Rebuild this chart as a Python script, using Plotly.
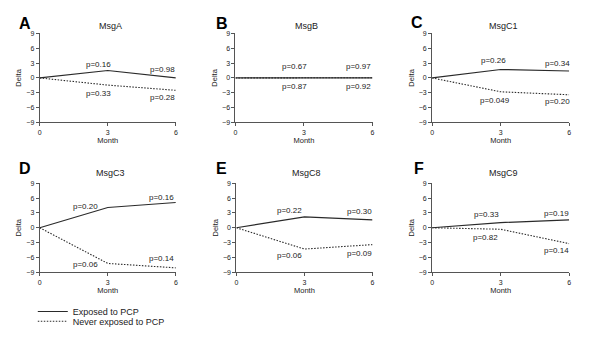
import plotly.graph_objects as go

months = [0, 3, 6]
panels = ["MsgA", "MsgB", "MsgC1", "MsgC3", "MsgC8", "MsgC9"]
letters = ["A", "B", "C", "D", "E", "F"]

exposed = [
    [0, 1.5, 0.0],
    [0, -0.05, 0.0],
    [0, 1.7, 1.4],
    [0, 4.1, 5.1],
    [0, 2.2, 1.6],
    [0, 1.05, 1.6],
]
never = [
    [0, -1.45, -2.5],
    [0, 0.0, 0.05],
    [0, -2.8, -3.4],
    [0, -7.2, -8.1],
    [0, -4.3, -3.4],
    [0, -0.3, -3.2],
]
p_exposed = [
    ["p=0.16", "p=0.98"],
    ["p=0.67", "p=0.97"],
    ["p=0.26", "p=0.34"],
    ["p=0.20", "p=0.16"],
    ["p=0.22", "p=0.30"],
    ["p=0.33", "p=0.19"],
]
p_never = [
    ["p=0.33", "p=0.28"],
    ["p=0.87", "p=0.92"],
    ["p=0.049", "p=0.20"],
    ["p=0.06", "p=0.14"],
    ["p=0.06", "p=0.09"],
    ["p=0.82", "p=0.14"],
]
# label anchor positions (data coords, centers) for the p-value text
lab_exp_pos = [
    [(2.61, 2.8), (5.43, 1.64)],
    [(2.57, 2.37), (5.39, 2.37)],
    [(2.67, 3.56), (5.48, 3.0)],
    [(2.02, 4.27), (5.36, 6.2)],
    [(2.33, 3.4), (5.41, 3.3)],
    [(2.37, 2.6), (5.43, 2.95)],
]
lab_nev_pos = [
    [(2.61, -3.1), (5.43, -3.95)],
    [(2.57, -1.78), (5.39, -1.78)],
    [(2.77, -4.5), (5.47, -4.7)],
    [(2.02, -7.4), (5.36, -6.25)],
    [(2.36, -5.5), (5.41, -5.1)],
    [(2.35, -1.97), (5.43, -4.6)],
]
yticks = [-9, -6, -3, 0, 3, 6, 9]
xticks = [0, 3, 6]

W, H = 600, 338
xdom_px = [(38, 175), (235, 373), (433, 571), (38, 175), (236, 373), (433, 571)]
ydom_px = [(30, 121), (30, 121), (30, 121), (183, 274), (183, 274), (183, 274)]
letter_px = [(23, 19.5), (221, 19.5), (418, 19), (23, 168), (221, 168), (420, 168)]
title_py = [22.7, 22.7, 22.7, 173, 173, 173]

FONT = "Liberation Sans, Arial, sans-serif"
LINE_C = "#2a2a2a"
AX_C = "#555555"
TXT_C = "#222222"

fig = go.Figure()
annotations = []
for i in range(6):
    sfx = "" if i == 0 else str(i + 1)
    xa, ya = "x" + sfx, "y" + sfx
    fig.add_trace(go.Scatter(
        x=months, y=exposed[i], mode="lines", xaxis=xa, yaxis=ya,
        line=dict(color=LINE_C, width=1.2, dash="solid"),
        name="Exposed to PCP", showlegend=(i == 0), legend="legend"))
    fig.add_trace(go.Scatter(
        x=months, y=never[i], mode="lines", xaxis=xa, yaxis=ya,
        line=dict(color=LINE_C, width=1.1, dash="1.5px,1.5px"),
        name="Never exposed to PCP", showlegend=(i == 0), legend="legend2"))
    x0, x1 = xdom_px[i]
    yt, yb = ydom_px[i]
    axis_common = dict(showgrid=False, zeroline=False, showline=True,
                       linecolor=AX_C, linewidth=1, ticks="outside",
                       ticklen=3, tickwidth=1, tickcolor=AX_C,
                       tickfont=dict(size=7, color=TXT_C, family=FONT))
    fig.update_layout({
        "xaxis" + sfx: dict(domain=[x0 / W, x1 / W], anchor=ya, range=[0, 6],
                            tickvals=xticks,
                            title=dict(text="Month", standoff=0,
                                       font=dict(size=7.5, color=TXT_C, family=FONT)),
                            **axis_common),
        "yaxis" + sfx: dict(domain=[1 - yb / H, 1 - yt / H], anchor=xa,
                            range=[-9, 9], tickvals=yticks,
                            title=dict(text="Delta", standoff=3,
                                       font=dict(size=7.5, color=TXT_C, family=FONT)),
                            **axis_common),
    })
    annotations.append(dict(text="<b>" + letters[i] + "</b>",
                            x=letter_px[i][0] / W, y=1 - letter_px[i][1] / H,
                            xref="paper", yref="paper", showarrow=False,
                            font=dict(size=16, family=FONT, color="#000"),
                            xanchor="center", yanchor="middle"))
    annotations.append(dict(text=panels[i], x=(x0 + x1) / 2 / W + 0.004, y=1 - title_py[i] / H,
                            xref="paper", yref="paper", showarrow=False,
                            font=dict(size=9, family=FONT, color=TXT_C),
                            xanchor="center", yanchor="middle"))
    for k in range(2):
        for txt, pos in ((p_exposed[i][k], lab_exp_pos[i][k]), (p_never[i][k], lab_nev_pos[i][k])):
            annotations.append(dict(text=txt, x=pos[0], y=pos[1], xref=xa, yref=ya,
                                    showarrow=False, xanchor="center", yanchor="middle",
                                    font=dict(size=8, family=FONT, color=TXT_C)))

legend_common = dict(bgcolor="rgba(0,0,0,0)", font=dict(size=9, family=FONT, color=TXT_C),
                     xanchor="left", yanchor="middle", itemwidth=30)
fig.update_layout(
    width=W, height=H, margin=dict(l=0, r=0, t=0, b=0),
    paper_bgcolor="white", plot_bgcolor="white",
    annotations=annotations,
    legend=dict(x=31 / W, y=1 - 314 / H, **legend_common),
    legend2=dict(x=31 / W, y=1 - 324 / H, **legend_common),
)
fig.write_html("out.html")
